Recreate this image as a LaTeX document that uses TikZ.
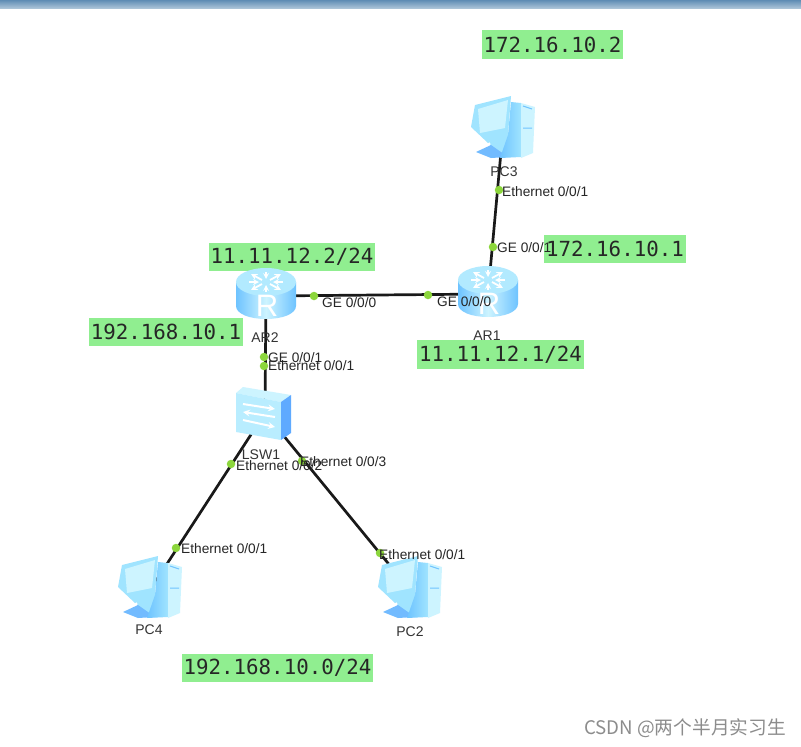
\documentclass[tikz,border=0pt]{standalone}
\usepackage{fontspec}
\setmainfont{Liberation Sans}
\newfontfamily\addrfont{DejaVu Sans Mono}
\newfontfamily\cjkfont{Noto Sans CJK SC}
\definecolor{portgreen}{RGB}{140,214,60}
\definecolor{addrgreen}{RGB}{144,238,144}
\definecolor{iconpale}{RGB}{205,244,255}
\definecolor{iconlight}{RGB}{160,228,255}
\definecolor{iconmid}{RGB}{110,195,255}
\definecolor{icondark}{RGB}{95,170,255}
\definecolor{barhigh}{RGB}{95,140,180}
\definecolor{barlow}{RGB}{170,195,215}
\tikzset{
    device/.style={inner sep=0pt,minimum size=0pt},
    devname/.style={inner sep=0pt,text=black!80,font=\fontsize{14}{15}\selectfont},
    port/.style={circle,fill=portgreen,inner sep=0pt,minimum size=8.5pt},
    portlabel/.style={anchor=west,inner sep=0pt,text=black!85,font=\fontsize{13.7}{14}\selectfont},
    addr/.style={fill=addrgreen,inner xsep=2pt,inner ysep=1pt,minimum height=28.5pt,text=black!85,font=\addrfont\fontsize{20.8}{22}\selectfont},
    link/.style={draw=black!90,line width=2.7pt},
    router/.pic={
        \path[left color=iconmid,right color=iconmid,middle color=iconpale]
            (-30,-14) -- (-30,10) .. controls (-30,18) and (-16,23) .. (0,23)
            .. controls (16,23) and (30,18) .. (30,10) -- (30,-14) -- cycle;
        \fill[iconlight!60!iconpale] (0,-14) ellipse [x radius=30pt,y radius=14pt];
        \foreach \dx/\dy in {1/1,-1/1,1/-1,-1/-1}
            \draw[white,line width=1.8pt,-stealth] (\dx*4,-14+\dy*2) -- (\dx*15,-14+\dy*8);
        \foreach \dx in {1,-1}
            \draw[white,line width=1.6pt,-stealth] (\dx*17,-14) -- (\dx*7,-14);
        \foreach \dy in {1,-1}
            \draw[white,line width=1.6pt,-stealth] (0,-14+\dy*10) -- (0,-14+\dy*3);
        \node[inner sep=0pt,text=white,font=\fontsize{31}{32}\selectfont] (-letter) at (1,10) {R};
    },
    switchbox/.pic={
        \fill[iconpale] (-29,-20) -- (-22,-26) -- (26,-18) -- (16,-11) -- cycle;
        \fill[iconlight!45!iconpale] (-29,-20) -- (16,-11) -- (16,27) -- (-29,19) -- cycle;
        \fill[icondark] (16,-11) -- (26,-18) -- (26,20) -- (16,27) -- cycle;
        \draw[white,line width=2pt,-stealth] (-22,-9) -- (10,-4);
        \draw[white,line width=2pt,-stealth] (10,4) -- (-22,-1);
        \draw[white,line width=2pt,-stealth] (-22,7) -- (10,14);
    },
    computer/.pic={
        \fill[iconlight] (-13,10) -- (8,2) -- (4,26) -- (-12,23) -- cycle;
        \fill[icondark!70!iconlight] (-27,22) -- (-12,15) -- (5,27) -- (-12,28) -- cycle;
        \path[left color=iconmid,right color=iconlight] (8,-28) -- (18,-27) -- (18,27) -- (-3,28) -- (5,5) -- cycle;
        \fill[iconpale] (18,-27) -- (32,-23) -- (30,23) -- (18,28) -- cycle;
        \draw[iconmid,line width=1pt] (20,-24) -- (29,-21) (20,-2) -- (29,-2);
        \fill[iconlight] (-28,-25) -- (8,-34) -- (5,5) -- (-15,13) -- (-32,-3) -- cycle;
        \fill[iconpale] (-25,-21) -- (5,-30) -- (2,-2) -- (-23,3) -- cycle;
    },
}
\begin{document}
\begin{tikzpicture}[x=1pt,y=-1pt]
    \useasboundingbox[fill=white] (0,0) rectangle (801,747);
    \node[device] (pcc) at (503,130) {};
    \node[device] (ara) at (488,294) {};
    \node[device] (arb) at (266,296) {};
    \node[device] (lsw) at (265,413) {};
    \node[device] (pcd) at (150,590) {};
    \node[device] (pcb) at (410,590) {};

    \path[top color=barhigh,bottom color=barlow] (0,0) rectangle (801,8);

    \draw[link] (pcc) -- (ara);
    \draw[link] (ara) -- (arb);
    \draw[link] (arb) -- (lsw);
    \draw[link] (lsw) -- (pcd);
    \draw[link] (lsw) -- (pcb);

    \node[addr] (addrpc) at (552.5,44.5) {172.16.10.2};
    \node[addr] (addrgw) at (615,249) {172.16.10.1};
    \node[addr] (addrwanb) at (292,257) {11.11.12.2/24};
    \node[addr] (addrlan) at (166,332) {192.168.10.1};
    \node[addr] (addrwana) at (500.5,354.5) {11.11.12.1/24};
    \node[addr] (addrnet) at (277.5,668) {192.168.10.0/24};

    \pic at (pcc) {computer};
    \pic at (ara) {router};
    \pic at (arb) {router};
    \pic at (lsw) {switchbox};
    \pic at (pcd) {computer};
    \pic at (pcb) {computer};

    \node[port] (pcceth) at (499,190) {};
    \node[port] (arage1) at (493,247) {};
    \node[port] (arage0) at (428,295) {};
    \node[port] (arbge0) at (314,296) {};
    \node[port] (arbge1) at (264,357) {};
    \node[port] (lsweth1) at (264,366) {};
    \node[port] (lsweth2) at (231,464) {};
    \node[port] (lsweth3) at (302,461) {};
    \node[port] (pcdeth) at (176,548) {};
    \node[port] (pcbeth) at (380,553) {};

    \node[devname] (pccname) at (504,172) {PC3};
    \node[devname] (araname) at (487,336) {AR1};
    \node[devname] (arbname) at (265,338) {AR2};
    \node[devname] (lswname) at (261,455) {LSW1};
    \node[devname] (pcdname) at (149,630) {PC4};
    \node[devname] (pcbname) at (410,632) {PC2};

    \node[portlabel] (pcclabel) at (502,192) {Ethernet 0/0/1};
    \node[portlabel] (arage1label) at (497,248) {GE 0/0/1};
    \node[portlabel] (arage0label) at (437,302) {GE 0/0/0};
    \node[portlabel] (arbge0label) at (322,303) {GE 0/0/0};
    \node[portlabel] (arbge1label) at (268,358) {GE 0/0/1};
    \node[portlabel] (lsweth1label) at (268,366) {Ethernet 0/0/1};
    \node[portlabel] (lsweth2label) at (236,466) {Ethernet 0/0/2};
    \node[portlabel] (lsweth3label) at (300,462) {Ethernet 0/0/3};
    \node[portlabel] (pcdlabel) at (181,549) {Ethernet 0/0/1};
    \node[portlabel] (pcblabel) at (379,555) {Ethernet 0/0/1};

    \node[anchor=east,inner sep=0pt,text=black!45,font=\cjkfont\fontsize{18.7}{20}\selectfont] (mark) at (786,728) {CSDN @两个半月实习生};
\end{tikzpicture}
\end{document}
